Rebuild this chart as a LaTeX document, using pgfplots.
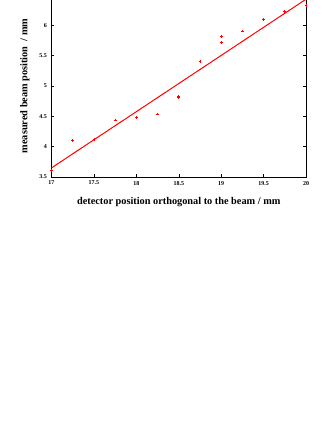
\documentclass[border=0pt]{standalone}
\usepackage{pgfplots}
\pgfplotsset{compat=1.18}
\usepackage{fontspec}
\setmainfont{Liberation Serif}
\begin{document}
\begin{tikzpicture}[x=1pt,y=1pt]
\begin{axis}[
  at={(0,0)}, anchor=south west,
  scale only axis,
  width=254.5pt, height=182pt,
  xmin=17, xmax=20, ymin=3.5, ymax=6.5,
  xtick={17,17.5,...,20}, ytick={3.5,4,...,6},
  tick align=inside,
  major tick length=3pt,
  xtick pos=bottom, ytick pos=both,
  axis line style={black, line width=0.6pt},
  tick style={black, line width=0.5pt},
  /pgf/number format/assume math mode=true,
  ticklabel style={font=\fontsize{6}{6}\selectfont\bfseries},
  xticklabel style={yshift=-0.5pt},
  yticklabel style={xshift=-1pt},
  xlabel={detector position orthogonal to the beam / mm},
  ylabel={measured beam position\ \ / mm},
  label style={font=\fontsize{10.3}{11}\selectfont\bfseries},
  xlabel style={yshift=-5pt},
  ylabel style={yshift=3pt},
  clip=true,
]
\addplot[red, only marks, mark=+, mark size=1.4pt, mark options={line width=0.6pt}] coordinates {
  (17,3.61) (17.25,4.105) (17.5,4.12) (17.75,4.44) (18,4.48) (18.25,4.54)
  (18.5,4.83) (18.5,4.81) (18.75,5.41) (19,5.82) (19,5.72) (19.25,5.905)
  (19.5,6.10) (19.75,6.23) (20,6.33)
};
\addplot[red, line width=1pt] coordinates {(17,3.65) (20,6.43)};
\end{axis}
\pgfresetboundingbox
\path[use as bounding box] (-51.5pt,-253pt) rectangle (280.5pt,177pt);
\end{tikzpicture}
\end{document}
